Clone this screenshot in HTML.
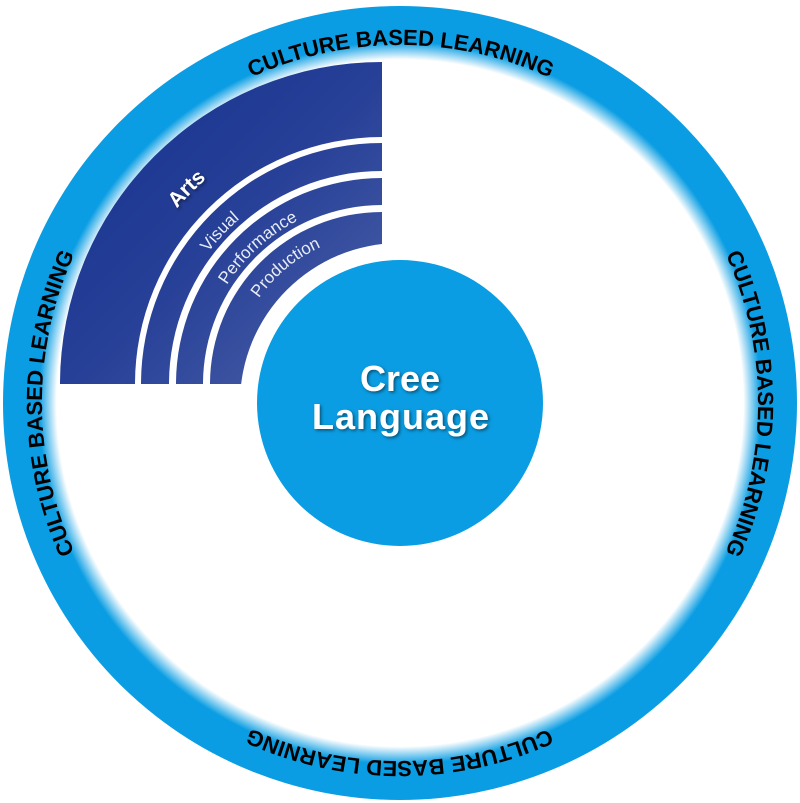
<!DOCTYPE html>
<html><head><meta charset="utf-8"><style>html,body{margin:0;padding:0;background:#fff}svg{display:block}</style></head>
<body>
<svg width="800" height="803" viewBox="0 0 800 803" xmlns="http://www.w3.org/2000/svg">
<defs>
<radialGradient id="ring" cx="400" cy="403" r="397" gradientUnits="userSpaceOnUse">
<stop offset="0.865" stop-color="#ffffff"/>
<stop offset="0.91" stop-color="#0a9de3"/>
<stop offset="1" stop-color="#0a9de3"/>
</radialGradient>
<linearGradient id="arts" x1="60" y1="63" x2="382" y2="384" gradientUnits="userSpaceOnUse">
<stop offset="0" stop-color="#15338e"/>
<stop offset="0.5" stop-color="#263f97"/>
<stop offset="1" stop-color="#4d62a8"/>
</linearGradient>
<path id="outer" d="M400,761 A358,358 0 1 1 400,45 A358,358 0 1 1 400,761 A358,358 0 1 1 400,45 A358,358 0 1 1 400,761"/>
<path id="a1" d="M112,384 A270,270 0 0 1 382,114"/>
<path id="a2" d="M164,384 A218,218 0 0 1 382,166"/>
<path id="a3" d="M198,384 A184,184 0 0 1 382,200"/>
<path id="a4" d="M232,384 A150,150 0 0 1 382,234"/>
<filter id="sh" x="-20%" y="-20%" width="140%" height="140%"><feDropShadow dx="1.5" dy="1.5" stdDeviation="1.5" flood-color="#000" flood-opacity="0.5"/></filter>
</defs>
<circle cx="400" cy="403" r="397" fill="url(#ring)"/>
<path d="M60,384 A322,322 0 0 1 382,62 L382,137 A247,247 0 0 0 135,384 Z" fill="url(#arts)"/>
<path d="M141,384 A241,241 0 0 1 382,143 L382,171 A213,213 0 0 0 169,384 Z" fill="url(#arts)"/>
<path d="M176,384 A206,206 0 0 1 382,178 L382,205 A179,179 0 0 0 203,384 Z" fill="url(#arts)"/>
<path d="M210,384 A172,172 0 0 1 382,212 L382,384 Z" fill="url(#arts)"/>
<circle cx="400" cy="403" r="160" fill="#fff"/>
<circle cx="400" cy="403" r="143" fill="#0a9de3"/>
<g font-family="Liberation Sans, sans-serif" fill="#fff">
<text font-size="21" font-weight="bold" text-anchor="middle" filter="url(#sh)"><textPath href="#a1" startOffset="50%">Arts</textPath></text>
<text font-size="17" text-anchor="middle" fill="#e8ecf6"><textPath href="#a2" startOffset="48%">Visual</textPath></text>
<text font-size="17" text-anchor="middle" fill="#e8ecf6"><textPath href="#a3" startOffset="53%">Performance</textPath></text>
<text font-size="17" text-anchor="middle" fill="#e8ecf6"><textPath href="#a4" startOffset="56%">Production</textPath></text>
<text x="400" y="391" font-size="36" font-weight="bold" text-anchor="middle" filter="url(#sh)">Cree</text>
<text x="401" y="429" font-size="36" font-weight="bold" text-anchor="middle" letter-spacing="1" filter="url(#sh)">Language</text>
</g>
<g font-family="Liberation Sans, sans-serif" font-size="22" font-weight="bold" fill="#000" text-anchor="middle">
<text><textPath href="#outer" startOffset="562">CULTURE BASED LEARNING</textPath></text>
<text><textPath href="#outer" startOffset="1125">CULTURE BASED LEARNING</textPath></text>
<text><textPath href="#outer" startOffset="1687">CULTURE BASED LEARNING</textPath></text>
<text><textPath href="#outer" startOffset="2249">CULTURE BASED LEARNING</textPath></text>
</g>
</svg>
</body></html>
